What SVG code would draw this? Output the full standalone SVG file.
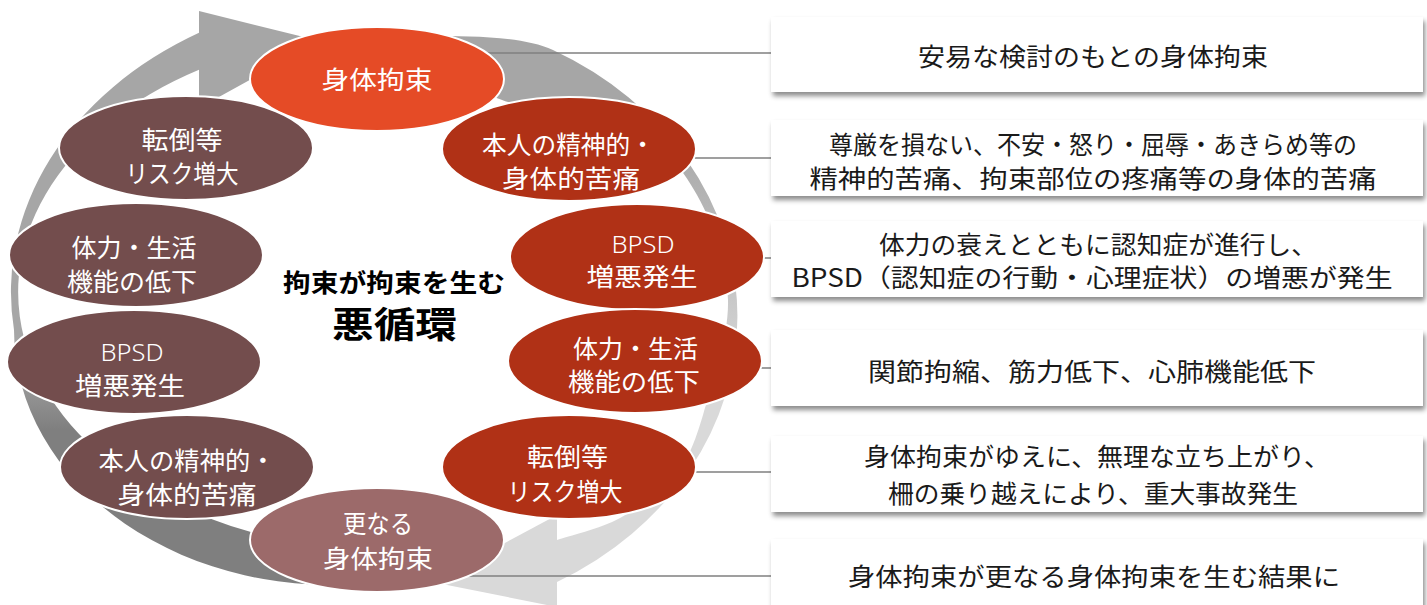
<svg xmlns="http://www.w3.org/2000/svg" width="1427" height="605" viewBox="0 0 1427 605">
<defs>
<linearGradient id="gL" gradientUnits="userSpaceOnUse" x1="0" y1="360" x2="0" y2="430"><stop offset="0" stop-color="#a6a6a6"/><stop offset="1" stop-color="#7f7f7f"/></linearGradient>
<linearGradient id="gR" gradientUnits="userSpaceOnUse" x1="0" y1="130" x2="0" y2="380"><stop offset="0" stop-color="#a6a6a6"/><stop offset="1" stop-color="#d9d9d9"/></linearGradient>
<filter id="sh" x="-5%" y="-20%" width="110%" height="160%"><feDropShadow dx="2" dy="4" stdDeviation="2.5" flood-color="#000" flood-opacity="0.45"/></filter>
<style>
.et{font-family:"Noto Sans CJK JP","Noto Sans",sans-serif;font-size:25px;fill:#fff;text-anchor:middle;dominant-baseline:central}
.lt{font-family:"Noto Sans","Liberation Sans",sans-serif;font-weight:300;font-size:24px;fill:#fff;text-anchor:middle;dominant-baseline:central}
.bt{font-family:"Noto Sans CJK JP","Noto Sans",sans-serif;font-size:25px;fill:#1a1a1a;text-anchor:middle;dominant-baseline:central}
.ct{font-family:"Noto Sans CJK JP","Noto Sans",sans-serif;font-weight:700;fill:#000;text-anchor:middle;dominant-baseline:central}
.box{fill:#fff;filter:url(#sh)}
.ln{stroke:#7f7f7f;stroke-width:1.6;fill:none}
.el{stroke:#fff;stroke-width:2}
.c1{fill:#e54b26}.c2{fill:#b03116}.c3{fill:#734d4d}.c4{fill:#9c6a6a}
</style>
</defs>
<g id="cycle-arrows">
<path fill="url(#gL)" d="M 199 32.8 A 379 300 0 0 0 14 330 A 317 255 0 0 0 380 581.8 L 380 550.9 A 372 259 0 0 1 199 69.8 Z"/>
<polygon fill="#a6a6a6" points="199,11 320,41 199,108"/>
<path fill="url(#gR)" d="M 430 36 C 470 36 523 36.2 553 50 A 350 303 0 0 1 557 582 L 557 540 C 567.5 536.3 600.3 528.8 620 518 C 639.7 507.2 661.2 492.2 675 475 C 688.8 457.8 694.2 444.2 703 415 C 711.8 385.8 729 336.7 728 300 C 727 263.3 713.3 224.2 697 195 C 680.7 165.8 660.3 140.2 630 125 C 599.7 109.8 543.3 111.5 515 104 C 486.7 96.5 469.2 84 460 80 Z"/>
<polygon fill="#d9d9d9" points="557,515 432,582 557,607"/>
</g>
<g id="connectors">
<line class="ln" x1="470" y1="53" x2="772" y2="53"/>
<line class="ln" x1="640" y1="158" x2="772" y2="158"/>
<line class="ln" x1="700" y1="258" x2="772" y2="258"/>
<line class="ln" x1="700" y1="368" x2="772" y2="368"/>
<line class="ln" x1="640" y1="472" x2="772" y2="472"/>
<line class="ln" x1="420" y1="576" x2="772" y2="576"/>
</g>
<g id="node-restraint-top">
<ellipse class="el c1" cx="377" cy="79" rx="127" ry="52"/>
<text class="et" x="377" y="78" font-size="27" textLength="111" lengthAdjust="spacingAndGlyphs">身体拘束</text>
</g>
<g id="node-r-suffering">
<ellipse class="el c2" cx="569" cy="149" rx="127" ry="52"/>
<text class="et" x="568.5" y="143" textLength="173" lengthAdjust="spacingAndGlyphs">本人の精神的・</text>
<text class="et" x="571" y="177" textLength="138" lengthAdjust="spacingAndGlyphs">身体的苦痛</text>
</g>
<g id="node-r-bpsd">
<ellipse class="el c2" cx="637" cy="257" rx="127" ry="53"/>
<text class="lt" x="643" y="243" textLength="63" lengthAdjust="spacingAndGlyphs">BPSD</text>
<text class="et" x="642" y="275" textLength="111" lengthAdjust="spacingAndGlyphs">増悪発生</text>
</g>
<g id="node-r-decline">
<ellipse class="el c2" cx="635" cy="361" rx="127" ry="52"/>
<text class="et" x="635.5" y="347" textLength="125" lengthAdjust="spacingAndGlyphs">体力・生活</text>
<text class="et" x="634" y="380" textLength="132" lengthAdjust="spacingAndGlyphs">機能の低下</text>
</g>
<g id="node-r-fall">
<ellipse class="el c2" cx="569" cy="467" rx="127" ry="52"/>
<text class="et" x="567.5" y="455" textLength="81" lengthAdjust="spacingAndGlyphs">転倒等</text>
<text class="et" x="565" y="490" textLength="115" lengthAdjust="spacingAndGlyphs">リスク増大</text>
</g>
<g id="node-l-fall">
<ellipse class="el c3" cx="186" cy="148" rx="127" ry="52"/>
<text class="et" x="182" y="138" textLength="81" lengthAdjust="spacingAndGlyphs">転倒等</text>
<text class="et" x="182" y="172" textLength="113" lengthAdjust="spacingAndGlyphs">リスク増大</text>
</g>
<g id="node-l-decline">
<ellipse class="el c3" cx="136" cy="255" rx="127" ry="52"/>
<text class="et" x="134" y="246" textLength="125" lengthAdjust="spacingAndGlyphs">体力・生活</text>
<text class="et" x="132" y="280" textLength="130" lengthAdjust="spacingAndGlyphs">機能の低下</text>
</g>
<g id="node-l-bpsd">
<ellipse class="el c3" cx="134" cy="362" rx="127" ry="52"/>
<text class="lt" x="132" y="351" textLength="63" lengthAdjust="spacingAndGlyphs">BPSD</text>
<text class="et" x="130" y="384" textLength="110" lengthAdjust="spacingAndGlyphs">増悪発生</text>
</g>
<g id="node-l-suffering">
<ellipse class="el c3" cx="187" cy="467" rx="127" ry="52"/>
<text class="et" x="187" y="459" textLength="177" lengthAdjust="spacingAndGlyphs">本人の精神的・</text>
<text class="et" x="187" y="493" textLength="139" lengthAdjust="spacingAndGlyphs">身体的苦痛</text>
</g>
<g id="node-restraint-more">
<ellipse class="el c4" cx="377" cy="540" rx="127" ry="52"/>
<text class="et" x="378" y="522" textLength="70" lengthAdjust="spacingAndGlyphs">更なる</text>
<text class="et" x="378" y="557" textLength="110" lengthAdjust="spacingAndGlyphs">身体拘束</text>
</g>
<g id="center-title">
<text class="ct" x="394" y="281" font-size="25" textLength="222" lengthAdjust="spacingAndGlyphs">拘束が拘束を生む</text>
<text class="ct" x="394.5" y="322" font-size="36" textLength="125" lengthAdjust="spacingAndGlyphs">悪循環</text>
</g>
<g id="box-1">
<rect class="box" x="771" y="17" width="652" height="75"/>
<text class="bt" x="1093" y="55" font-size="27" textLength="350" lengthAdjust="spacingAndGlyphs">安易な検討のもとの身体拘束</text>
</g>
<g id="box-2">
<rect class="box" x="771" y="120" width="652" height="76"/>
<text class="bt" x="1093" y="143" textLength="528" lengthAdjust="spacingAndGlyphs">尊厳を損ない、不安・怒り・屈辱・あきらめ等の</text>
<text class="bt" x="1093" y="177" textLength="567" lengthAdjust="spacingAndGlyphs">精神的苦痛、拘束部位の疼痛等の身体的苦痛</text>
</g>
<g id="box-3">
<rect class="box" x="771" y="221" width="652" height="76"/>
<text class="bt" x="1098" y="243" textLength="438" lengthAdjust="spacingAndGlyphs">体力の衰えとともに認知症が進行し、</text>
<text class="bt" x="1092" y="276" textLength="601" lengthAdjust="spacingAndGlyphs">BPSD（認知症の行動・心理症状）の増悪が発生</text>
</g>
<g id="box-4">
<rect class="box" x="771" y="330" width="652" height="76"/>
<text class="bt" x="1092" y="370" font-size="27" textLength="448" lengthAdjust="spacingAndGlyphs">関節拘縮、筋力低下、心肺機能低下</text>
</g>
<g id="box-5">
<rect class="box" x="771" y="436" width="652" height="76"/>
<text class="bt" x="1097" y="455" textLength="466" lengthAdjust="spacingAndGlyphs">身体拘束がゆえに、無理な立ち上がり、</text>
<text class="bt" x="1093" y="492" textLength="410" lengthAdjust="spacingAndGlyphs">柵の乗り越えにより、重大事故発生</text>
</g>
<g id="box-6">
<rect class="box" x="771" y="539" width="652" height="76"/>
<text class="bt" x="1094" y="575" font-size="27" textLength="492" lengthAdjust="spacingAndGlyphs">身体拘束が更なる身体拘束を生む結果に</text>
</g>
</svg>
